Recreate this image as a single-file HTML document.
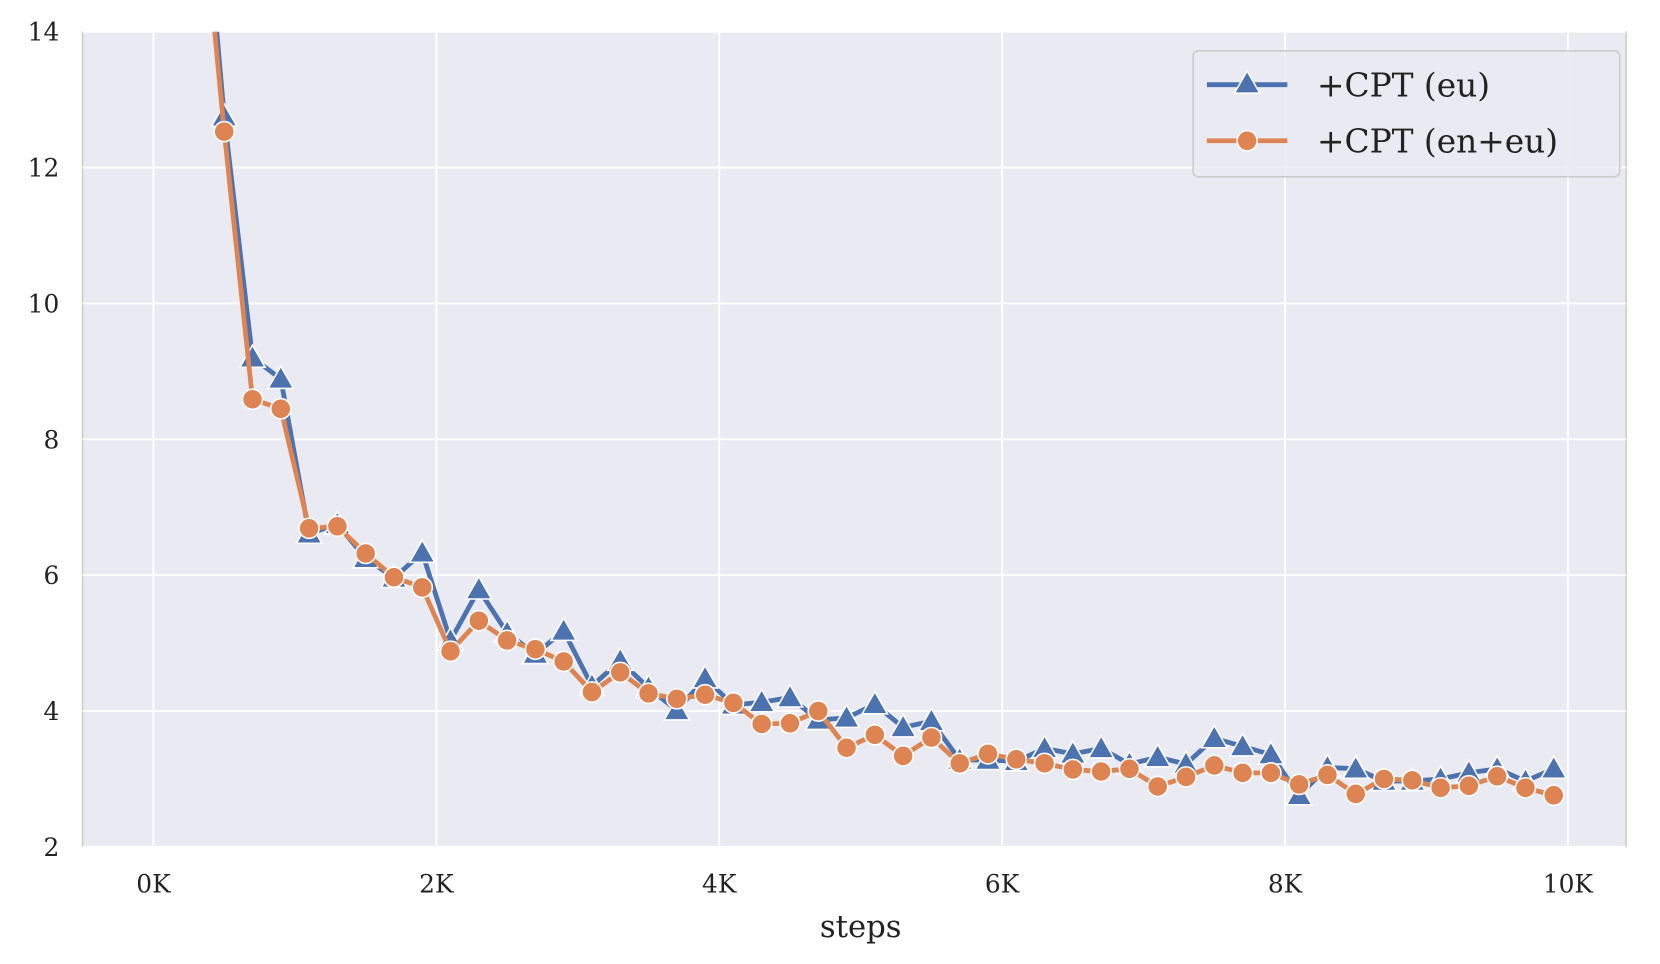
<!DOCTYPE html>
<html><head><meta charset="utf-8"><style>
html,body{margin:0;padding:0;background:#fff;}
svg{display:block;font-family:"DejaVu Serif","Liberation Serif",serif;}
</style></head><body>
<svg id="chart" width="1660" height="964" viewBox="0 0 1568 910.6" preserveAspectRatio="none">
<defs><clipPath id="plotclip"><rect x="78" y="30" width="1458" height="770"/></clipPath></defs>
<rect x="78" y="30" width="1458" height="770" fill="#eaeaf2" stroke="#cccccc" stroke-width="1.5"/>
<g id="grid"></g>
<g id="ticks"></g>
<g clip-path="url(#plotclip)" id="series"></g>
<text x="813" y="885" font-size="29" text-anchor="middle" fill="#222">steps</text>
<g>
<rect x="1127" y="48" width="403" height="119" rx="5" fill="#eaeaf2" fill-opacity="0.85" stroke="#cccccc" stroke-width="1.5"/>
<g>
<line x1="1140" y1="80" x2="1216" y2="80" stroke="#4c72b0" stroke-width="4.5"/>
<polygon points="1178,67 1190,88 1166,88" fill="#4c72b0" stroke="#fff" stroke-width="1.5"/>
<text x="1244" y="91" font-size="31" fill="#222">+CPT (eu)</text>
</g>
<g>
<line x1="1140" y1="133" x2="1216" y2="133" stroke="#dd8452" stroke-width="4.5"/>
<circle cx="1178" cy="133" r="9.5" fill="#dd8452" stroke="#fff" stroke-width="1.5"/>
<text x="1244" y="144" font-size="31" fill="#222">+CPT (en+eu)</text>
</g>
</g>
</svg>
<script>
const steps = [100,300,500,700,900,1100,1300,1500,1700,1900,2100,2300,2500,2700,2900,3100,3300,3500,3700,3900,4100,4300,4500,4700,4900,5100,5300,5500,5700,5900,6100,6300,6500,6700,6900,7100,7300,7500,7700,7900,8100,8300,8500,8700,8900,9100,9300,9500,9700,9900];
const cptEu = [25,17.5,12.75,9.2,8.89,6.61,6.75,6.25,5.96,6.33,5.04,5.79,5.15,4.84,5.18,4.37,4.74,4.34,4.01,4.48,4.09,4.13,4.2,3.87,3.9,4.1,3.76,3.85,3.28,3.28,3.26,3.45,3.37,3.45,3.22,3.32,3.22,3.6,3.48,3.36,2.76,3.17,3.15,2.97,2.97,3.0,3.09,3.15,2.97,3.15];
const cptEnEu = [24,16.9,12.53,8.59,8.45,6.69,6.72,6.32,5.97,5.82,4.88,5.33,5.04,4.91,4.73,4.28,4.57,4.26,4.18,4.24,4.12,3.81,3.82,4.0,3.46,3.65,3.34,3.61,3.23,3.37,3.29,3.23,3.14,3.11,3.15,2.89,3.03,3.2,3.09,3.09,2.92,3.06,2.78,3.0,2.98,2.87,2.9,3.04,2.87,2.76];
const xTicks = [0,2000,4000,6000,8000,10000];
const xTickLabels = ["0K","2K","4K","6K","8K","10K"];
const yTicks = [2,4,6,8,10,12,14];
const yTickLabels = ["2","4","6","8","10","12","14"];

const NS = "http://www.w3.org/2000/svg";
const xs = v => 145 + (v/10000)*1336;
const ys = v => 800 - (v-2)*(770/12);
function mk(tag, attrs, parent){const e=document.createElementNS(NS,tag);for(const k in attrs)e.setAttribute(k,attrs[k]);parent.appendChild(e);return e;}
const grid=document.getElementById('grid'), ticks=document.getElementById('ticks'), series=document.getElementById('series');
xTicks.forEach((t,i)=>{
  const l=mk('line',{x1:xs(t),x2:xs(t),y1:30,y2:800,stroke:'#fff','stroke-width':1.8},grid);
  
  
  const tx=mk('text',{x:xs(t),y:843,'font-size':23.5,'text-anchor':'middle',fill:'#222'},ticks);
  tx.textContent=xTickLabels[i];
  
  
});
yTicks.forEach((t,i)=>{
  const l=mk('line',{x1:78,x2:1536,y1:ys(t),y2:ys(t),stroke:'#fff','stroke-width':1.8},grid);
  
  
  const tx=mk('text',{x:56,y:ys(t)+8.5,'font-size':23.5,'text-anchor':'end',fill:'#222'},ticks);
  tx.textContent=yTickLabels[i];
  
  
});
function drawSeries(vals,color,shape,name){
  const g=mk('g',{},series);
  
  
  const pts=steps.map((s,i)=>xs(s)+','+ys(vals[i])).join(' ');
  mk('polyline',{points:pts,fill:'none',stroke:color,'stroke-width':4.5,'stroke-linejoin':'round'},g);
  steps.forEach((s,i)=>{
    const x=xs(s),y=ys(vals[i]);let m;
    if(shape==='tri'){m=mk('polygon',{points:`${x},${y-12} ${x+12},${y+9} ${x-12},${y+9}`,fill:color,stroke:'#fff','stroke-width':1.5},g);}
    else{m=mk('circle',{cx:x,cy:y,r:9.5,fill:color,stroke:'#fff','stroke-width':1.5},g);}
    
    
  });
}
drawSeries(cptEu,'#4c72b0','tri','series-cpt-eu');
drawSeries(cptEnEu,'#dd8452','circ','series-cpt-en-eu');
</script>
</body></html>
